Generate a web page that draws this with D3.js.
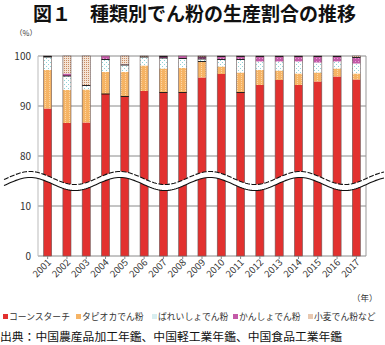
<!DOCTYPE html>
<html><head><meta charset="utf-8">
<script src="https://cdn.jsdelivr.net/npm/d3@7"></script>
<style>body{margin:0;background:#fff}svg{display:block}text{font-family:"Noto Sans CJK JP","Noto Sans",sans-serif}</style>
</head><body><svg id="c" width="385" height="345"></svg>
<script>
const years = ["2001","2002","2003","2004","2005","2006","2007","2008","2009","2010","2011","2012","2013","2014","2015","2016","2017"];
const seriesNames = ["コーンスターチ","タピオカでん粉","ばれいしょでん粉","かんしょでん粉","小麦でん粉など"];
const corn      = [89.5,86.6,86.7,92.4,91.9,93.0,92.7,92.7,95.7,96.4,92.7,94.2,95.2,94.2,94.9,95.9,95.3];
const tapioca   = [7.7, 6.6, 6.6, 4.4, 4.9, 5.1, 4.8, 4.9, 3.2, 1.5, 4.0, 3.0, 1.9, 2.3, 1.8, 1.6, 1.2];
const potato    = [2.6, 2.8, 0.8, 2.5, 1.4, 1.7, 2.1, 1.9, 0.5, 1.4, 2.6, 1.7, 1.8, 2.4, 2.0, 1.4, 2.0];
const sweetPot  = [0.1, 0.5, 0.1, 0.7, 0.1, 0.0, 0.3, 0.5, 0.4, 0.6, 0.6, 1.0, 1.0, 1.0, 1.2, 1.0, 1.2];
const wheat     = [0.1, 3.5, 5.8, 0.0, 1.7, 0.2, 0.1, 0.0, 0.2, 0.1, 0.1, 0.1, 0.1, 0.1, 0.1, 0.1, 0.3];
const yTicks = [0,10,80,90,100];

const svg = d3.select("#c");
const defs = svg.append("defs");
function dotPattern(id, bg, dot, size, r, dots){
  const p = defs.append("pattern").attr("id",id).attr("patternUnits","userSpaceOnUse").attr("width",size).attr("height",size);
  p.append("rect").attr("width",size).attr("height",size).attr("fill",bg);
  dots.forEach(d=>p.append("rect").attr("x",d[0]).attr("y",d[1]).attr("width",r).attr("height",r).attr("fill",dot));
}
dotPattern("pTap","#f6b465","#fcd7a6",4,1,[[1,0],[1,2]]);
dotPattern("pPot","#ffffff","#8fd3d6",4,1,[[0,0],[2,2]]);
dotPattern("pSwe","#c45aa8","#e7a3d6",3,1,[[1,1]]);
dotPattern("pWht","#f4e4d6","#c98a60",2,1,[[0,0]]);
const fills = ["#e2312f","url(#pTap)","url(#pPot)","url(#pSwe)","url(#pWht)"];
const legendFills = ["#e2312f","#f6b465","#d8eef0","#c45aa8","#e8c8b0"];

const pL=38, pR=366, pT=56, pB=256;
const x = d3.scaleBand().domain(years).range([pL,pR]).paddingInner(0.58).paddingOuter(0.29);
const y = d3.scaleLinear().domain([0,10,80,100]).range([pB,206,156,pT]);

// title
svg.append("text").attr("x",33).attr("y",21).attr("font-size",19).attr("font-weight","bold").attr("fill","#111")
  .text("図１　種類別でん粉の生産割合の推移");
svg.append("text").attr("x",15).attr("y",36).attr("font-size",7.5).attr("fill","#333").text("（%）");

// gridlines
svg.append("g").selectAll("line").data(yTicks).join("line")
  .attr("x1",pL).attr("x2",pR).attr("y1",d=>y(d)).attr("y2",d=>y(d))
  .attr("stroke","#8a8a8a").attr("stroke-width",1);
svg.append("g").selectAll("text").data(yTicks).join("text")
  .attr("x",31).attr("y",d=>y(d)+3.5).attr("text-anchor","end").attr("font-size",10).attr("fill","#333").text(d=>d);
svg.append("line").attr("x1",pL).attr("x2",pL).attr("y1",pT).attr("y2",pB).attr("stroke","#bbb");
svg.append("line").attr("x1",pR).attr("x2",pR).attr("y1",pT).attr("y2",pB).attr("stroke","#999");

// stacked bars
const rows = years.map((yr,i)=>({year:yr, v:[corn[i],tapioca[i],potato[i],sweetPot[i],wheat[i]]}));
const g = svg.append("g");
rows.forEach(r=>{
  let acc=0;
  r.v.forEach((v,k)=>{
    const y0=acc, y1=acc+v; acc=y1;
    if(v<=0) return;
    g.append("rect").attr("x",x(r.year)).attr("width",x.bandwidth())
      .attr("y",y(Math.min(y1,100))).attr("height",y(y0)-y(Math.min(y1,100))).attr("fill",fills[k]);
  });
  const t = Math.min(acc,100);
  g.append("rect").attr("x",x(r.year)).attr("width",x.bandwidth()).attr("y",y(t)).attr("height",y(0)-y(t))
    .attr("fill","none").attr("stroke","#6a5a5a").attr("stroke-width",0.6);
  // dark boundary lines between segments
  let a2=0;
  r.v.slice(0,4).forEach((v,k)=>{
    a2+=v;
    if((k>0 && r.v[k+1]>0 && r.v[k+1]<0.8) || (k===0 && r.v[1]>3.9 && r.v[1]<5)){
      g.append("line").attr("x1",x(r.year)).attr("x2",x(r.year)+x.bandwidth()).attr("y1",y(a2)).attr("y2",y(a2)).attr("stroke","#111").attr("stroke-width",0.9);
    }
  });
});

// x ticks
svg.append("g").selectAll("line").data(years).join("line")
  .attr("x1",d=>x(d)+x.bandwidth()/2).attr("x2",d=>x(d)+x.bandwidth()/2).attr("y1",pB).attr("y2",pB+3).attr("stroke","#888");
svg.append("g").selectAll("text").data(years).join("text")
  .attr("transform",d=>`translate(${x(d)+x.bandwidth()/2+4},${pB+7}) rotate(-45)`)
  .attr("text-anchor","end").attr("font-size",9.5).attr("fill","#333").text(d=>d);

// axis break
const mid = (y(10)+y(80))/2 - 3;
const wave = d3.range(0,386,2).map(px=>[px, mid - 6.5*Math.cos(2*Math.PI*(px-30)/90)]);
const band = wave.concat(wave.slice().reverse().map(p=>[p[0],p[1]+6]));
svg.append("path").attr("d",d3.line()(band)+"Z").attr("fill","#fff");
svg.append("path").attr("d",d3.line()(wave.filter(p=>p[0]>=3))).attr("fill","none").attr("stroke","#111").attr("stroke-width",1.1).attr("stroke-dasharray","5,1.5");
svg.append("path").attr("d",d3.line()(wave.filter(p=>p[0]>=3).map(p=>[p[0],p[1]+6]))).attr("fill","none").attr("stroke","#111").attr("stroke-width",1.1);

svg.append("text").attr("x",352).attr("y",301).attr("font-size",8.5).attr("fill","#333").text("（年）");

// legend
const legX = [3,76,152,233,308];
seriesNames.forEach((n,i)=>{
  svg.append("rect").attr("x",legX[i]).attr("y",314).attr("width",5).attr("height",5).attr("fill",legendFills[i]);
  svg.append("text").attr("x",legX[i]+6).attr("y",320).attr("font-size",8.8).attr("fill","#333").text(n);
});
svg.append("text").attr("x",0).attr("y",341).attr("font-size",11.8).attr("fill","#111").text("出典：中国農産品加工年鑑、中国軽工業年鑑、中国食品工業年鑑");
</script></body></html>
